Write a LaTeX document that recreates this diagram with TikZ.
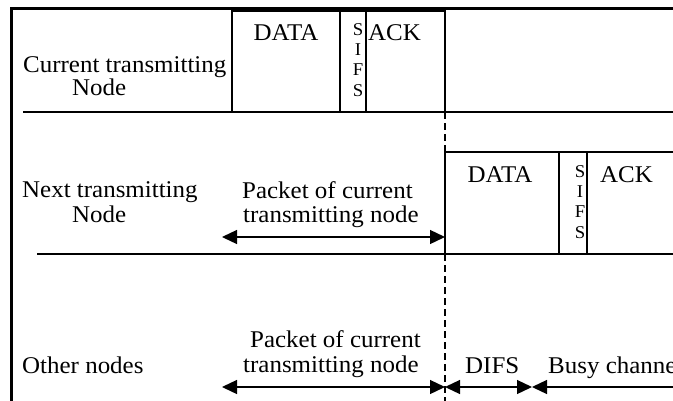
\documentclass[tikz,border=0pt]{standalone}
\usepackage{fontspec}
\setmainfont[FakeStretch=1.04]{Liberation Serif}
\usetikzlibrary{arrows.meta}
\begin{document}
\begin{tikzpicture}[x=1pt,y=-1pt,
  lbl/.style={inner sep=0pt, anchor=base west, font=\fontsize{24}{26}\selectfont},
  lblc/.style={inner sep=0pt, anchor=base, font=\fontsize{24}{26}\selectfont},
  sifs/.style={inner sep=0pt, anchor=north, align=center, font=\fontsize{18}{20.3}\selectfont},
  frame/.style={line width=2.8pt},
  box/.style={line width=1.3pt},
  sepline/.style={line width=1.3pt},
  dline/.style={line width=1.3pt, dash pattern=on 7pt off 4pt},
  dim/.style={line width=1.3pt, {Triangle[length=15pt,width=14pt]}-{Triangle[length=15pt,width=14pt]}}
]
\clip (0,0) rectangle (673,400);
\fill[white] (0,0) rectangle (673,400);

% frame
\draw[frame] (11.3,401) -- (11.3,8.2) -- (674,8.2);

% row 1 boxes
\draw[box] (232,112) -- (232,11) -- (445,11) -- (445,112);
\draw[box] (340,11) -- (340,112);
\draw[box] (366,11) -- (366,112);
\draw[sepline] (23,112) -- (674,112);

% row 2 boxes
\draw[box] (445,254) -- (445,152) -- (674,152);
\draw[box] (559,152) -- (559,254);
\draw[box] (587,152) -- (587,254);
\draw[sepline] (37,254) -- (674,254);

% dashed time line
\draw[dline] (445,112) -- (445,152);
\draw[dline] (445,254) -- (445,401);

% row 1 texts
\node[lbl] (cur1) at (23,72) {Current transmitting};
\node[lbl] (cur2) at (72,95) {Node};
\node[lblc] (data1) at (286,40) {DATA};
\node[sifs] (sifs1) at (358,23) {S\\I\\F\\S};
\node[lbl] (ack1) at (368,40) {ACK};

% row 2 texts
\node[lbl] (nxt1) at (22,197) {Next transmitting};
\node[lbl] (nxt2) at (72,222) {Node};
\node[lbl] (pk2a) at (242,198) {Packet of current};
\node[lbl] (pk2b) at (243,222) {transmitting node};
\node[lblc] (data2) at (500,182) {DATA};
\node[sifs] (sifs2) at (580,165) {S\\I\\F\\S};
\node[lbl] (ack2) at (600,182) {ACK};

% row 3 texts
\node[lbl] (oth) at (22,373) {Other nodes};
\node[lbl] (pk3a) at (250,347) {Packet of current};
\node[lbl] (pk3b) at (243,372) {transmitting node};
\node[lbl] (difs) at (465,373) {DIFS};
\node[lbl] (busy) at (548,373) {Busy channe};

% arrows
\coordinate (a2l) at (222,237);
\coordinate (a2r) at (445,237);
\coordinate (a3l) at (222,387);
\coordinate (a3m) at (445,387);
\coordinate (a3d) at (532,387);
\coordinate (a3r) at (690,387);
\draw[dim] (a2l) -- (a2r);
\draw[dim] (a3l) -- (a3m);
\draw[dim] (a3m) -- (a3d);
\draw[dim] (a3d) -- (a3r);
\end{tikzpicture}
\end{document}
